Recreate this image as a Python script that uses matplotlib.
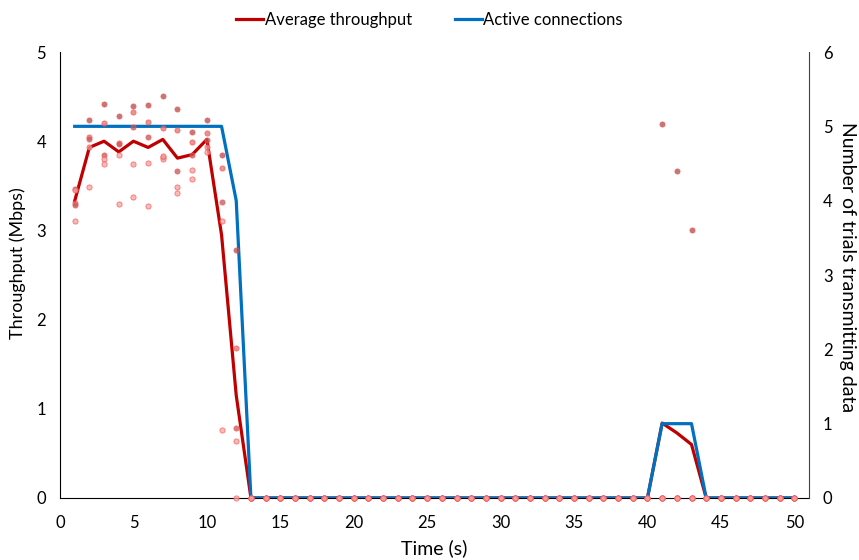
import numpy as np
import matplotlib.pyplot as plt

plt.rcParams["font.family"] = ["Lato", "DejaVu Sans"]

# time axis (s)
time = np.arange(1, 51)

# throughput of each of the 5 trials at t = 1..12 (Mbps)
early_trials = [
    [3.46, 3.31, 3.29, 3.10, 3.45],
    [4.24, 4.05, 4.03, 3.93, 3.49],
    [4.42, 4.20, 3.84, 3.80, 3.75],
    [4.28, 3.98, 3.97, 3.84, 3.30],
    [4.39, 4.33, 4.16, 3.75, 3.37],
    [4.41, 4.21, 4.05, 3.76, 3.27],
    [4.51, 4.15, 3.82, 3.80, 3.83],
    [4.36, 4.13, 3.67, 3.49, 3.42],
    [4.10, 3.99, 3.84, 3.68, 3.58],
    [4.24, 4.09, 4.01, 3.93, 3.88],
    [3.84, 3.70, 3.32, 3.10, 0.76],
    [2.78, 1.68, 0.78, 0.64, 0.00],
]
# late burst at t = 41..43 (only one trial transmitting)
late_trials = [
    [4.19, 0, 0, 0, 0],
    [3.67, 0, 0, 0, 0],
    [3.00, 0, 0, 0, 0],
]

avg_throughput = [3.33, 3.93, 4.00, 3.88, 4.00, 3.93, 4.02, 3.81, 3.85, 4.02,
                  2.95, 1.15] + [0] * 28 + [0.84, 0.73, 0.60] + [0] * 7
active_conn = [5] * 11 + [4] + [0] * 28 + [1, 1, 1] + [0] * 7

trials = np.zeros((50, 5))
trials[0:12] = early_trials
trials[40:43] = late_trials

trial_colors = ["#a05050", "#e07070", "#b85a5a", "#f0a0a0", "#f4a6a6"]

fig = plt.figure(figsize=(8.59, 5.6), dpi=100)
ax = fig.add_axes([60 / 859, 62 / 560, 749 / 859, 446 / 560])
ax2 = ax.twinx()

ax.plot(time, avg_throughput, color="#c00000", lw=2.3, label="Average throughput")
ax2.plot(time, active_conn, color="#0070c0", lw=2.3, label="Active connections")

for k in range(5):
    ax2.scatter(time, trials[:, k], s=14, transform=ax.transData,
                facecolor=trial_colors[k], edgecolor="#ff5050", linewidth=0.6,
                alpha=0.75, zorder=3, clip_on=False)

ax.set_xlim(0, 51)
ax.set_ylim(0, 5)
ax2.set_ylim(0, 6)
ax.set_xticks(range(0, 51, 5))
ax.set_yticks(range(0, 6))
ax2.set_yticks(range(0, 7))

for a in (ax, ax2):
    a.tick_params(length=0, labelsize=12, colors="#000000", pad=10)
    a.spines["top"].set_visible(False)
ax.spines["right"].set_visible(False)
ax2.spines["left"].set_visible(False)
ax2.spines["bottom"].set_visible(False)
ax2.spines["right"].set_color("#404040")
ax.tick_params(axis="x", pad=12)

ax.set_xlabel("Time (s)", fontsize=14, labelpad=6)
ax.set_ylabel("Throughput (Mbps)", fontsize=13, ha="center", va="center")
ax2.set_ylabel("Number of trials transmitting data", fontsize=14,
               rotation=270, ha="center", va="center")
ax.yaxis.set_label_coords(-0.057, 0.527)
ax2.yaxis.set_label_coords(1.052, 0.518)

h1, l1 = ax.get_legend_handles_labels()
h2, l2 = ax2.get_legend_handles_labels()
fig.legend(h1 + h2, l1 + l2, loc="upper center", bbox_to_anchor=(0.5, 1.005),
           ncol=2, frameon=False, fontsize=12, handlelength=1.6,
           handletextpad=0.1, columnspacing=2.6)

fig.savefig("out.png", dpi=100)
